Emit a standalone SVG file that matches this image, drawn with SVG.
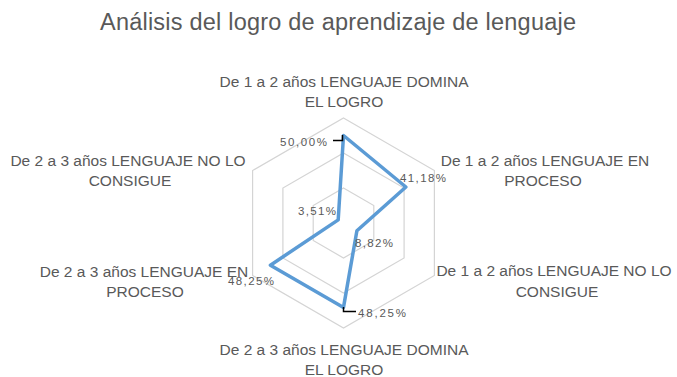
<svg xmlns="http://www.w3.org/2000/svg" width="677" height="377" viewBox="0 0 677 377">
<style>
.title{font-family:"Liberation Sans",Arial,sans-serif;font-size:23.5px;fill:#595959}
.cat{font-family:"Liberation Sans",Arial,sans-serif;font-size:15.5px;fill:#595959;text-anchor:middle}
.val{font-family:"Liberation Sans",Arial,sans-serif;font-size:11.5px;fill:#595959}
.grid{fill:none;stroke:#d4d4d4;stroke-width:1.2}
.series{fill:none;stroke:#5b9bd5;stroke-width:3.5;stroke-linejoin:round}
.leader{fill:none;stroke:#000;stroke-width:1.5}
</style>
<rect width="677" height="377" fill="#fff"/>
<text class="title" x="100" y="30" textLength="476">Análisis  del logro de aprendizaje de lenguaje</text>
<g id="grid">
<polygon class="grid" points="343.5,188 373.8,205.5 373.8,240.5 343.5,258 313.2,240.5 313.2,205.5"/>
<polygon class="grid" points="343.5,153 404.1,188 404.1,258 343.5,293 282.9,258 282.9,188"/>
<polygon class="grid" points="343.5,118 434.4,170.5 434.4,275.5 343.5,328 252.6,275.5 252.6,170.5"/>
</g>
<g id="connectors">
<polygon class="series" points="343.5,135.5 405.9,187 356.9,230.7 343.5,307.4 270.4,265.2 338.2,219.9"/>
<path class="leader" d="M333 140.5 H342.5 V135"/>
<path class="leader" d="M343.5 307 V311.5 H356"/>
</g>
<g id="cat1"><text class="cat" x="344" y="87">De 1 a 2 años LENGUAJE DOMINA</text><text class="cat" x="344" y="107">EL LOGRO</text></g>
<g id="cat2"><text class="cat" x="545" y="166">De 1 a 2 años LENGUAJE EN</text><text class="cat" x="543" y="186">PROCESO</text></g>
<g id="cat3"><text class="cat" x="554" y="276">De 1 a 2 años LENGUAJE NO LO</text><text class="cat" x="557" y="297">CONSIGUE</text></g>
<g id="cat4"><text class="cat" x="344" y="355">De 2 a 3 años LENGUAJE DOMINA</text><text class="cat" x="344" y="375">EL LOGRO</text></g>
<g id="cat5"><text class="cat" x="144" y="277">De 2 a 3 años LENGUAJE EN</text><text class="cat" x="145" y="297">PROCESO</text></g>
<g id="cat6"><text class="cat" x="128" y="166">De 2 a 3 años LENGUAJE NO LO</text><text class="cat" x="130" y="186">CONSIGUE</text></g>
<g id="values">
<text class="val" x="280" y="146" textLength="47">50,00%</text>
<text class="val" x="400" y="181.5" textLength="46">41,18%</text>
<text class="val" x="298" y="215" textLength="38">3,51%</text>
<text class="val" x="355" y="247" textLength="38">8,82%</text>
<text class="val" x="228" y="285" textLength="46">48,25%</text>
<text class="val" x="358" y="317" textLength="48">48,25%</text>
</g>
</svg>
